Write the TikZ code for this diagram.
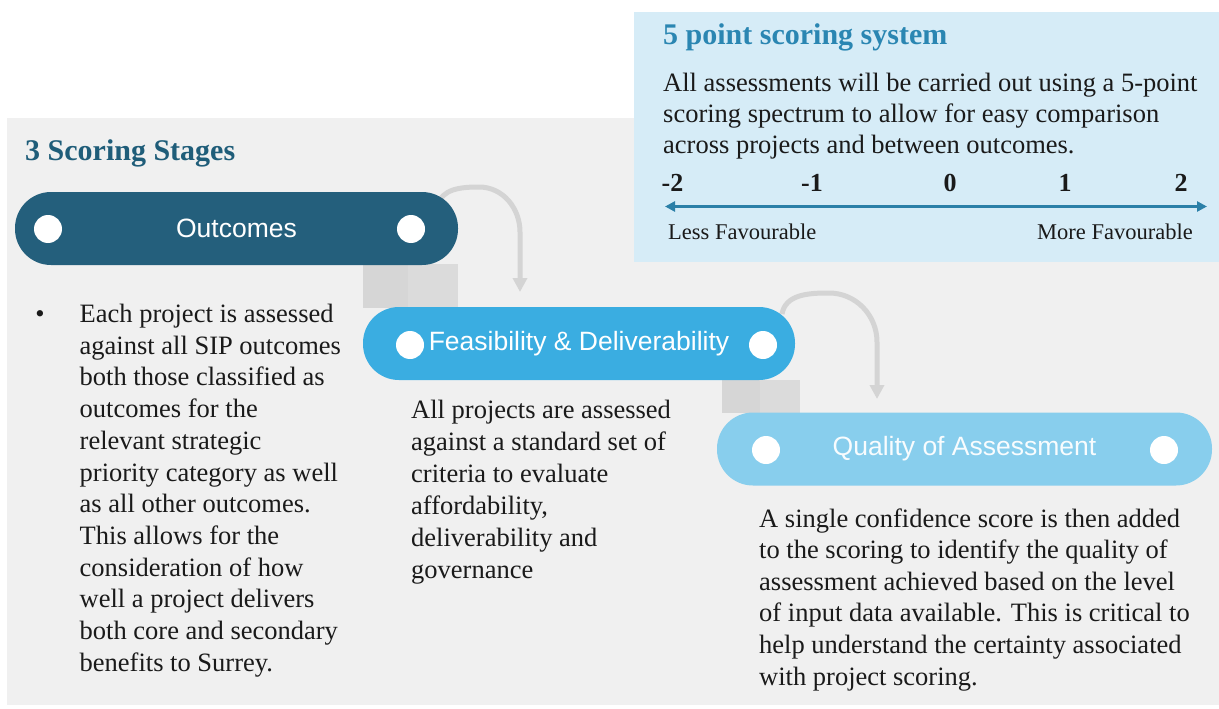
\documentclass[tikz,border=0pt]{standalone}
\usepackage{fontspec}
\setmainfont{Liberation Serif}
\newfontfamily\pillfont{Liberation Sans}
\usetikzlibrary{arrows.meta,calc}
\definecolor{panelgray}{HTML}{F0F0F0}
\definecolor{boxblue}{HTML}{D6ECF7}
\definecolor{darkteal}{HTML}{245F7C}
\definecolor{midblue}{HTML}{3AADE1}
\definecolor{lightblue}{HTML}{88CEED}
\definecolor{titleteal}{HTML}{1F5D79}
\definecolor{titleblue}{HTML}{2A86B2}
\definecolor{axisblue}{HTML}{2B80A8}
\definecolor{conngray}{HTML}{D4D4D4}
\definecolor{banddark}{HTML}{D6D6D6}
\definecolor{bandlight}{HTML}{DBDBDB}
\definecolor{bodytext}{HTML}{1A1A1A}
\begin{document}
\begin{tikzpicture}[x=1pt,y=-1pt,
  pill/.style={rounded corners=36pt, minimum height=73pt, inner sep=0pt, text=white,
    font=\pillfont\fontsize{26.5}{30}\selectfont},
  dot/.style={circle, fill=white, minimum size=28pt, inner sep=0pt},
  body/.style={anchor=base west, inner sep=0pt, align=left, text=bodytext,
    font=\fontsize{26.5}{31.7}\selectfont},
  heading/.style={anchor=base west, inner sep=0pt, font=\bfseries\fontsize{30}{36}\selectfont},
  scorenum/.style={anchor=base, inner sep=0pt, text=bodytext, font=\bfseries\fontsize{26}{30}\selectfont},
  favlabel/.style={inner sep=0pt, text=bodytext, font=\fontsize{22.5}{27}\selectfont},
  conn/.style={draw=conngray, line width=5pt, -{Triangle[length=14pt,width=14pt]}},
]
\useasboundingbox (0,0) rectangle (1219,709);
% background panels
\fill[panelgray] (7,118) rectangle (1219,705);
\fill[boxblue] (634,12) rectangle (1219,262);
% grey bands between pills
\fill[banddark] (363,264) rectangle (408,308);
\fill[bandlight] (408,264) rectangle (458,308);
\fill[banddark] (722,380) rectangle (760,413);
\fill[bandlight] (760,380) rectangle (800,413);

% positions for pills (drawn after connectors)
\coordinate (outc) at (236.5,228.5);
\coordinate (feasc) at (579,343.5);
\coordinate (qualc) at (964.5,449);
\coordinate (k1s) at (438,206);
\coordinate (k1) at (520,232);
\coordinate (k2s) at (782,314);
\coordinate (k2) at (877,342);

% connectors
\draw[conn] (k1s) to[out=80,in=180] (479,187) to[out=0,in=90] (k1) -- (520,292);
\draw[conn] (k2s) to[out=80,in=180] (829,293) to[out=0,in=90] (k2) -- (877,399);

% pills
\node[pill, fill=darkteal, minimum width=443pt] (out) at (outc) {\raisebox{-2pt}{Outcomes}};
\node[pill, fill=midblue, minimum width=432pt] (feas) at (feasc) {\raisebox{-3pt}{Feasibility \& Deliverability}};
\node[pill, fill=lightblue, minimum width=495pt, text=white!94!lightblue] (qual) at (qualc) {\raisebox{-3pt}{Quality of Assessment}};

% dots
\node[dot] (o1) at (48,229) {};
\node[dot] (o2) at (411,229) {};
\node[dot] (f1) at (410,345) {};
\node[dot] (f2) at (763,345) {};
\node[dot] (q1) at (766,450) {};
\node[dot] (q2) at (1164,450) {};

% headings
\node[heading, text=titleblue] (t5) at (663,45) {5 point scoring system};
\node[heading, text=titleteal] (t3) at (25,160) {3 Scoring Stages};

% blue box body (anchor = last baseline)
\node[body, font=\fontsize{26.5}{31}\selectfont] (bb) at (663,153)
  {All assessments will be carried out using a 5-point\\
   scoring spectrum to allow for easy comparison\\
   across projects and between outcomes.};

% scale
\node[scorenum] (n1) at (672.5,191) {-2};
\node[scorenum] (n2) at (812,191) {-1};
\node[scorenum] (n3) at (950,191) {0};
\node[scorenum] (n4) at (1065,191) {1};
\node[scorenum] (n5) at (1181,191) {2};
\coordinate (axl) at (665,206.5);
\coordinate (axr) at (1207,206.5);
\draw[axisblue, line width=3pt, {Triangle[length=10pt,width=10pt]}-{Triangle[length=10pt,width=10pt]}] (axl) -- (axr);
\node[favlabel, anchor=base west] (less) at (668,239) {Less Favourable};
\node[favlabel, anchor=base east] (more) at (1193,239) {More Favourable};

% left body
\node[body, anchor=base] (bul) at (40,322.5) {\textbullet};
\node[body] (lb) at (79.5,671.2)
  {Each project is assessed\\
   against all SIP outcomes\\
   both those classified as\\
   outcomes for the\\
   relevant strategic\\
   priority category as well\\
   as all other outcomes.\\
   This allows for the\\
   consideration of how\\
   well a project delivers\\
   both core and secondary\\
   benefits to Surrey.};

% middle body
\node[body, font=\fontsize{26.5}{32}\selectfont] (mb) at (411,578.5)
  {All projects are assessed\\
   against a standard set of\\
   criteria to evaluate\\
   affordability,\\
   deliverability and\\
   governance};

% right body
\node[body, font=\fontsize{26.5}{31.6}\selectfont] (rb) at (759,685)
  {A single confidence score is then added\\
   to the scoring to identify the quality of\\
   assessment achieved based on the level\\
   of input data available. This is critical to\\
   help understand the certainty associated\\
   with project scoring.};
\end{tikzpicture}
\end{document}
